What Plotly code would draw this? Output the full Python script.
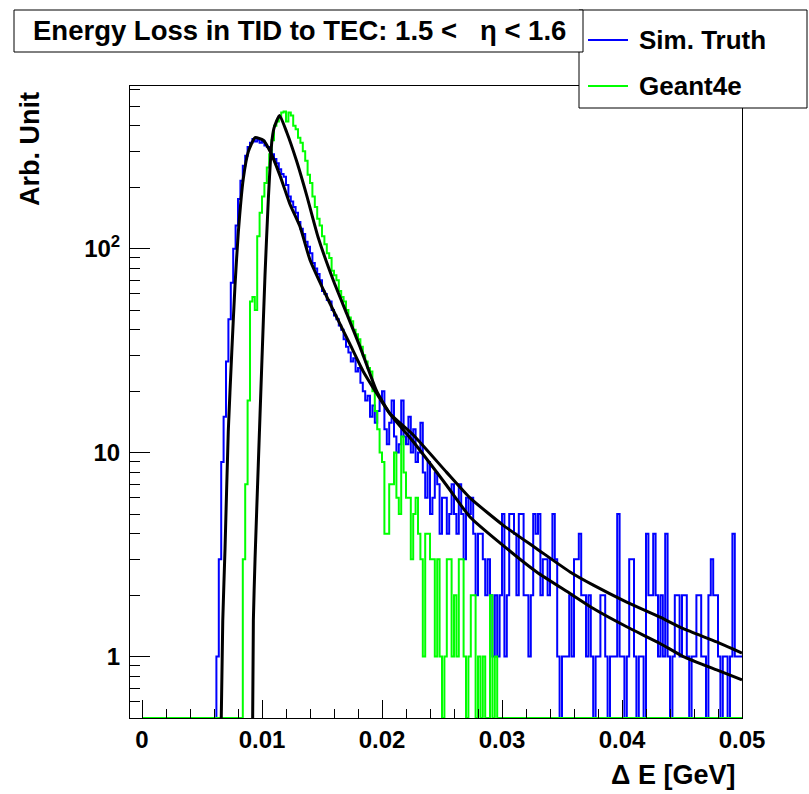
import numpy as np
import plotly.graph_objects as go

# ---------------- data ----------------
bin_width = 0.0002
n_bins = 250
sim_truth_counts = (
    [0] * 31 +
    [1, 3, 9, 15, 28, 45, 68, 100, 130, 175,
     215, 255, 285, 315, 330, 345, 335, 342, 330, 338,
     320, 315, 305, 290, 275, 262, 245, 232, 225, 205,
     180, 170, 160, 150, 135, 125, 118, 108, 102, 95,
     85, 80, 75, 70, 62, 60, 56, 55, 50, 47,
     45, 42, 40, 36, 33, 31, 28, 29, 25, 26,
     22, 20, 18, 19, 15, 17, 14, 16, 18, 20,
     13, 11, 14, 18, 12, 10, 11, 18, 12, 11,
     15, 10, 13, 9, 10, 14, 8, 6, 9, 5,
     6, 8, 7, 4, 6, 6, 4, 5, 7, 5,
     4, 7, 5, 3, 6, 5, 6, 4, 2, 4,
     4, 3, 2, 3, 2, 1, 2, 1, 2, 5,
     1, 2, 5, 5, 4, 2, 5, 5, 2, 2,
     1, 2, 5, 4, 5, 2, 3, 3, 2, 3,
     5, 3, 1, 0, 1, 1, 1, 2, 1, 3,
     3, 4, 2, 2, 1, 2, 1, 0, 1, 1,
     2, 2, 1, 0, 1, 1, 1, 5, 1, 1,
     0, 1, 3, 3, 1, 0, 1, 1, 0, 4,
     2, 2, 4, 2, 1, 2, 1, 4, 1, 0,
     1, 2, 2, 1, 2, 2, 1, 0, 1, 1,
     2, 2, 1, 1, 0, 2, 3, 2, 2, 1,
     0, 1, 1, 0, 1, 4, 1, 1, 1]
)
geant4e_counts = (
    [0] * 42 +
    [3, 7, 18, 55, 58, 50, 115, 150, 180, 210,
     250, 290, 340, 400, 420, 440, 465, 470, 420, 465,
     450, 400, 385, 350, 330, 300, 270, 230, 210, 180,
     160, 140, 130, 115, 105, 95, 90, 78, 74, 70,
     62, 58, 55, 50, 46, 44, 40, 38, 36, 33,
     30, 28, 26, 25, 20, 16, 13, 10, 9, 4,
     4, 7, 7, 10, 6, 5, 12, 8, 6, 6,
     3, 5, 6, 4, 3, 1, 4, 4, 3, 3,
     1, 3, 1, 0, 1, 3, 3, 1, 2, 1,
     3, 3, 1, 0, 1, 2, 2, 0, 1, 0,
     1, 0, 0, 2, 0, 1] +
    [0] * 102
)

# fitted curves, points (x in GeV, y in Arb. Unit)
fit_sim_x = [0.00658, 0.00673, 0.00692, 0.00719, 0.00748, 0.00775, 0.00803,
             0.00844, 0.00886, 0.00942, 0.01011, 0.01067, 0.0115, 0.01233,
             0.01317, 0.014, 0.01511, 0.01623, 0.01733, 0.01844, 0.01956,
             0.02067, 0.02261, 0.02539, 0.02733, 0.03011, 0.03289, 0.03567,
             0.03761, 0.04039, 0.04317, 0.04511, 0.04789, 0.05]
fit_sim_y = [0.4, 1.5, 3.4, 12.7, 31, 66, 121, 220, 299, 350, 340, 300, 228,
             165, 128, 88, 63, 46, 34, 25, 19.5, 15.5, 12.2, 8.0, 6.0, 4.4,
             3.38, 2.6, 2.24, 1.85, 1.56, 1.37, 1.18, 1.04]
fit_g4e_x = [0.00921, 0.00928, 0.00942, 0.00969, 0.00998, 0.01025, 0.01053,
             0.01081, 0.011, 0.01146, 0.01206, 0.01289, 0.01373, 0.01467,
             0.01594, 0.01706, 0.01817, 0.01956, 0.02067, 0.02261, 0.02539,
             0.02733, 0.03011, 0.03289, 0.03567, 0.03761, 0.04039, 0.04317,
             0.04511, 0.04789, 0.05]
fit_g4e_y = [0.4, 1.5, 3.0, 8.7, 26.8, 74, 176, 330, 390, 450, 372, 268, 182,
             114, 70, 48, 33, 20, 15.5, 11.3, 6.9, 4.84, 3.5, 2.6, 2.04,
             1.72, 1.40, 1.16, 1.0, 0.86, 0.77]

x_tick_vals = [0, 0.01, 0.02, 0.03, 0.04, 0.05]
x_tick_text = ["0", "0.01", "0.02", "0.03", "0.04", "0.05"]
y_tick_vals = [1, 10, 100]
y_tick_text = ["1", "10", "10<sup>2</sup>"]

title_text = "Energy Loss in TID to TEC: 1.5 <\u00a0\u00a0\u00a0η < 1.6"
legend_labels = ["Sim. Truth", "Geant4e"]

# ---------------- figure ----------------
y_min, y_max = 0.5, 627.0
edges = np.linspace(0.0, bin_width * n_bins, n_bins + 1)


def hist_xy(counts):
    c = np.array(counts, dtype=float)
    c = np.where(c <= 0, y_min, c)  # empty bins drawn on the frame bottom
    return edges, np.append(c, c[-1])


fig = go.Figure()
hx, hy = hist_xy(sim_truth_counts)
fig.add_trace(go.Scatter(x=hx, y=hy, mode="lines", line=dict(color="#0000ff", width=2, shape="hv"),
                         name=legend_labels[0], showlegend=False))
hx, hy = hist_xy(geant4e_counts)
fig.add_trace(go.Scatter(x=hx, y=hy, mode="lines", line=dict(color="#00ff00", width=2, shape="hv"),
                         name=legend_labels[1], showlegend=False))
fig.add_trace(go.Scatter(x=fit_sim_x, y=fit_sim_y, mode="lines",
                         line=dict(color="black", width=3, shape="spline", smoothing=0.5),
                         name="fit Sim. Truth", showlegend=False))
fig.add_trace(go.Scatter(x=fit_g4e_x, y=fit_g4e_y, mode="lines",
                         line=dict(color="black", width=3, shape="spline", smoothing=0.5),
                         name="fit Geant4e", showlegend=False))

W, H = 809, 794
L, R, T, B = 130, 742, 86, 718


def px(x):
    return (x - L) / (R - L)


def py(y):
    return (B - y) / (B - T)


font_family = "Liberation Sans, Arial, sans-serif"
tick_font = dict(family=font_family, size=24, color="black", weight="bold")

fig.update_layout(
    width=W, height=H,
    margin=dict(l=L, r=W - R, t=T, b=H - B),
    paper_bgcolor="white", plot_bgcolor="white",
    font=dict(family=font_family, color="black"),
    xaxis=dict(range=[-0.001, 0.05], tickmode="array", tickvals=x_tick_vals, ticktext=x_tick_text,
               ticks="inside", ticklen=18, tickwidth=1, tickcolor="black",
               minor=dict(tickmode="linear", tick0=0, dtick=0.002, ticks="inside", ticklen=9,
                          tickwidth=1, tickcolor="black", showgrid=False),
               showline=True, linecolor="black", linewidth=1, mirror=True,
               showgrid=False, zeroline=False, tickfont=tick_font),
    yaxis=dict(type="log", range=[np.log10(y_min), np.log10(y_max)], tickmode="array",
               tickvals=y_tick_vals, ticktext=y_tick_text,
               ticks="inside", ticklen=20, tickwidth=1, tickcolor="black",
               ticklabelstandoff=4,
               minor=dict(dtick="D1", ticks="inside", ticklen=10, tickwidth=1,
                          tickcolor="black", showgrid=False),
               showline=True, linecolor="black", linewidth=1, mirror=True,
               showgrid=False, zeroline=False, tickfont=tick_font),
    showlegend=False,
)

shapes = []
# legend box (drawn first, title box overlaps it)
shapes.append(dict(type="rect", xref="paper", yref="paper", x0=px(579), x1=px(807), y0=py(108), y1=py(10),
                   line=dict(color="black", width=1), fillcolor="white", layer="above"))
shapes.append(dict(type="line", xref="paper", yref="paper", x0=px(588), x1=px(628), y0=py(40), y1=py(40),
                   line=dict(color="#0000ff", width=2), layer="above"))
shapes.append(dict(type="line", xref="paper", yref="paper", x0=px(588), x1=px(628), y0=py(86), y1=py(86),
                   line=dict(color="#00ff00", width=2), layer="above"))
# title box
shapes.append(dict(type="rect", xref="paper", yref="paper", x0=px(14), x1=px(583), y0=py(52), y1=py(10),
                   line=dict(color="black", width=1), fillcolor="white", layer="above"))
fig.update_layout(shapes=shapes)


def lfont(size):
    return dict(family=font_family, size=size, color="black", weight="bold")


annotations = [
    dict(text=title_text, xref="paper", yref="paper", x=px(299), y=py(31), xanchor="center", yanchor="middle",
         showarrow=False, font=lfont(27.5)),
    dict(text=legend_labels[0], xref="paper", yref="paper", x=px(637), y=py(40), xanchor="left",
         yanchor="middle", showarrow=False, font=lfont(26)),
    dict(text=legend_labels[1], xref="paper", yref="paper", x=px(637), y=py(86), xanchor="left",
         yanchor="middle", showarrow=False, font=lfont(26)),
    dict(text="Arb. Unit", xref="paper", yref="paper", x=px(30), y=py(149), xanchor="center",
         yanchor="middle", textangle=-90, showarrow=False, font=lfont(27)),
    dict(text="Δ E [GeV]", xref="paper", yref="paper", x=px(737), y=py(775), xanchor="right",
         yanchor="middle", showarrow=False, font=lfont(27)),
]
fig.update_layout(annotations=annotations)

fig.write_html("out.html", post_script="document.body.style.margin='0';",
               config={"displayModeBar": False})
